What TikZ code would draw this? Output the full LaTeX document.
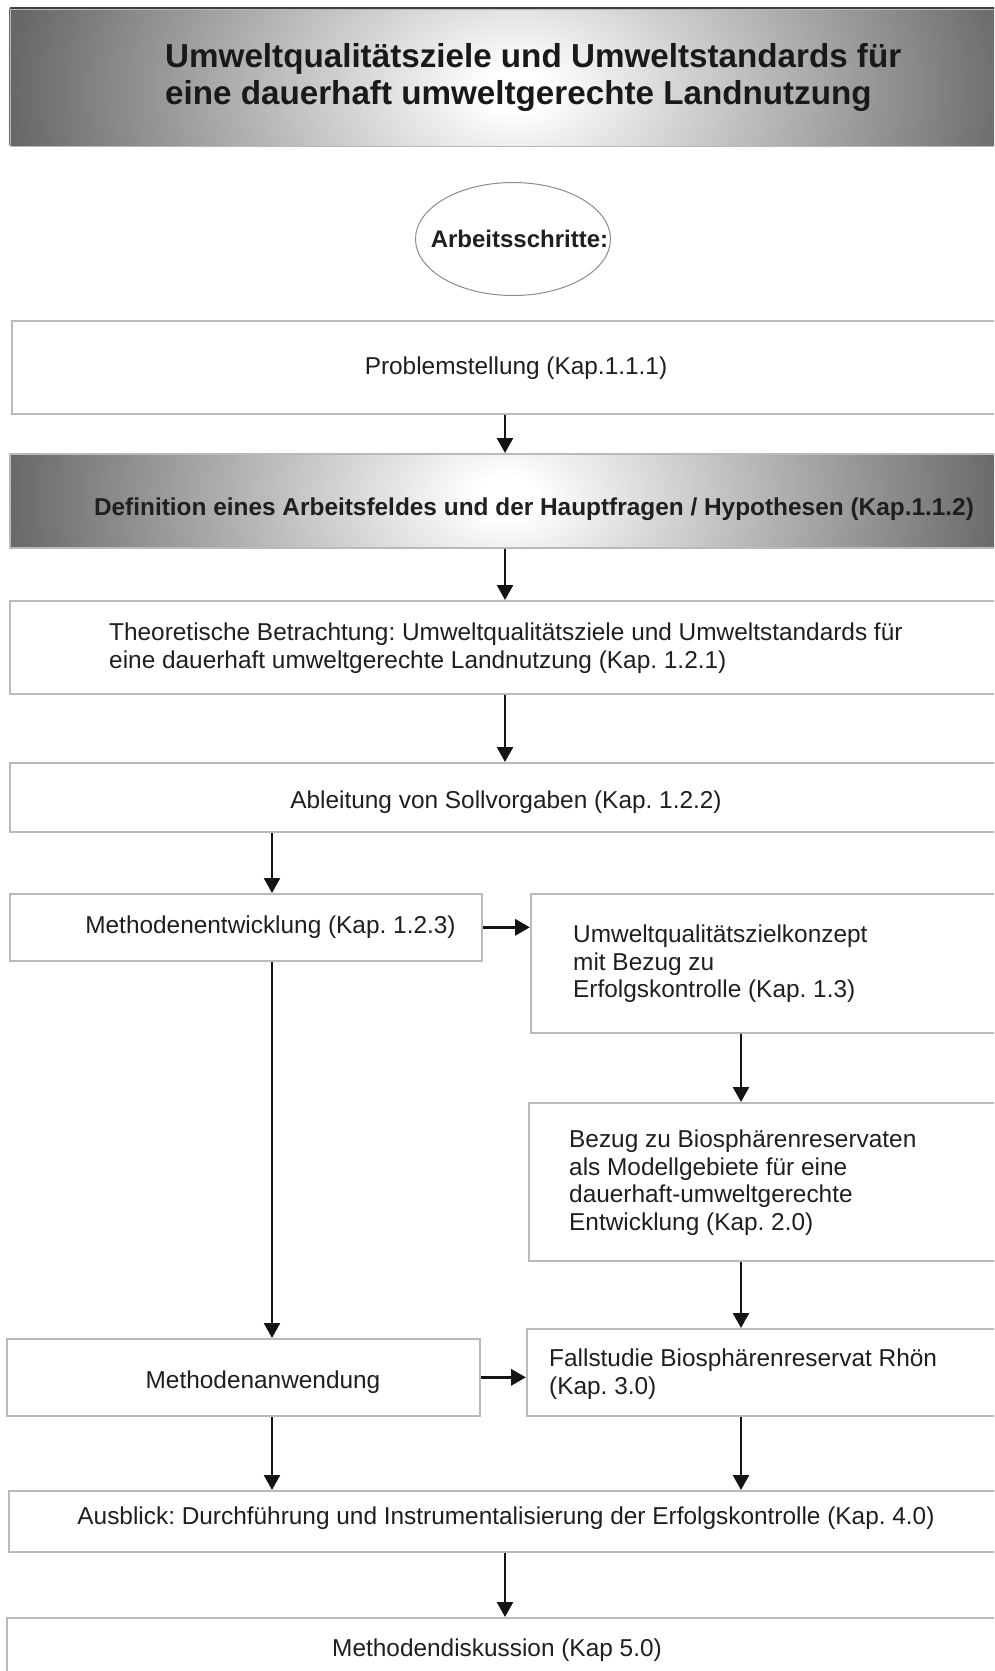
\documentclass[tikz,border=0pt]{standalone}
\usepackage{fontspec}
\setmainfont{Liberation Sans}
\usetikzlibrary{arrows.meta,shapes.geometric,calc}

% soft grey glow: white in the middle, dark grey at the rim of the path box
\pgfdeclareradialshading{glow}{\pgfpoint{0bp}{0bp}}{%
  color(0bp)=(white); color(1.5bp)=(white); color(25bp)=(black!60); color(50bp)=(black!64)}

\tikzset{
  box/.style={rectangle, draw=black!27, line width=1.6pt, fill=white,
              inner sep=0pt, anchor=north west},
  shadebox/.style={box, fill=none},
  body/.style={font=\fontsize{24.4}{27.5}\selectfont, text=black!88, inner sep=0pt},
  bodybf/.style={body, font=\bfseries\fontsize{24.4}{27.5}\selectfont},
  flow/.style={-{Triangle[width=16pt,length=15pt]}, line width=2.6pt, draw=black!92},
  side/.style={flow, line width=3.5pt},
}

\begin{document}
\frenchspacing
\begin{tikzpicture}[x=1pt,y=-1pt]
\useasboundingbox (0,0) rectangle (994,1671);
\clip (0,0) rectangle (994,1671);

% ---- title banner ----
\begin{scope}
  \clip (9.5,8) rectangle (1010,145.5);
  \shade[shading=glow] (5,-247) rectangle (1025,427);
\end{scope}
\node[shadebox, minimum width=1000, minimum height=137.5] (head) at (9.5,8) {};
\draw[black!75, line width=1.6pt] (head.north west) -- (head.north east);
\node[anchor=west, align=left, inner sep=0pt, text=black!90,
      font=\bfseries\fontsize{33.2}{37}\selectfont] (title) at (165,77.5)
  {Umweltqualitätsziele und Umweltstandards für\\eine dauerhaft umweltgerechte Landnutzung};

% ---- work steps ----
\node[ellipse, draw=black!45, line width=1pt, fill=white, inner sep=0pt,
      minimum width=195, minimum height=113] (steps) at (513,239) {};
\node[bodybf, font=\bfseries\fontsize{24}{27.5}\selectfont] (stepslabel) at (519.5,239) {Arbeitsschritte:};

\node[box, minimum width=1000, minimum height=93] (prob) at (11,320) {};
\node[body] (probt) at (516,368) {Problemstellung (Kap.1.1.1)};

\begin{scope}
  \clip (9,453) rectangle (1010,547);
  \shade[shading=glow] (0,160) rectangle (1010,834);
\end{scope}
\node[shadebox, minimum width=1000, minimum height=94] (def) at (9,453) {};
\node[bodybf] (deft) at (534,509)
  {Definition eines Arbeitsfeldes und der Hauptfragen / Hypothesen (Kap.1.1.2)};

\node[box, minimum width=1000, minimum height=93] (theo) at (9,600) {};
\node[body, anchor=west, align=left] (theot) at (109,648)
  {Theoretische Betrachtung: Umweltqualitätsziele und Umweltstandards für\\
   eine dauerhaft umweltgerechte Landnutzung (Kap. 1.2.1)};

\node[box, minimum width=1000, minimum height=69] (abl) at (9,762) {};
\node[body] (ablt) at (506,802) {Ableitung von Sollvorgaben (Kap. 1.2.2)};

\node[box, minimum width=472, minimum height=67] (mentw) at (9,893) {};
\node[body] (mentwt) at (270.5,927) {Methodenentwicklung (Kap. 1.2.3)};

\node[box, minimum width=480, minimum height=139] (uqz) at (530,893) {};
\node[body, anchor=west, align=left] (uqzt) at (573,964)
  {Umweltqualitätszielkonzept\\mit Bezug zu\\Erfolgskontrolle (Kap. 1.3)};

\node[box, minimum width=480, minimum height=158] (bezug) at (528,1102) {};
\node[body, anchor=west, align=left] (bezugt) at (569,1182.5)
  {Bezug zu Biosphärenreservaten\\als Modellgebiete für eine\\
   dauerhaft-umweltgerechte\\Entwicklung (Kap. 2.0)};

\node[box, minimum width=480, minimum height=87] (fall) at (526,1328) {};
\node[body, anchor=west, align=left] (fallt) at (549,1374)
  {Fallstudie Biosphärenreservat Rhön\\(Kap. 3.0)};

\node[box, minimum width=473, minimum height=77] (manw) at (6,1338) {};
\node[body] (manwt) at (263,1382) {Methodenanwendung};

\node[box, minimum width=1000, minimum height=61] (ausb) at (8,1490) {};
\node[body] (ausbt) at (506,1518)
  {Ausblick: Durchführung und Instrumentalisierung der Erfolgskontrolle (Kap. 4.0)};

\node[box, minimum width=1000, minimum height=100] (mdisk) at (6,1617) {};
\node[body] (mdiskt) at (497,1650) {Methodendiskussion (Kap 5.0)};

% ---- arrow columns ----
\coordinate (mid) at (505,0);
\coordinate (lft) at (272,0);
\coordinate (rgt) at (741,0);

\draw[flow] (prob.south -| mid) -- (def.north -| mid);
\draw[flow] (def.south -| mid) -- (theo.north -| mid);
\draw[flow] (theo.south -| mid) -- (abl.north -| mid);
\draw[flow] (abl.south -| lft) -- (mentw.north -| lft);
\draw[side] (mentw.east) -- (uqz.west |- mentw.east);
\draw[flow] (uqz.south -| rgt) -- (bezug.north -| rgt);
\draw[flow] (mentw.south -| lft) -- (manw.north -| lft);
\draw[flow] (bezug.south -| rgt) -- (fall.north -| rgt);
\draw[side] (manw.east) -- (fall.west |- manw.east);
\draw[flow] (manw.south -| lft) -- (ausb.north -| lft);
\draw[flow] (fall.south -| rgt) -- (ausb.north -| rgt);
\draw[flow] (ausb.south -| mid) -- (mdisk.north -| mid);
\end{tikzpicture}
\end{document}
